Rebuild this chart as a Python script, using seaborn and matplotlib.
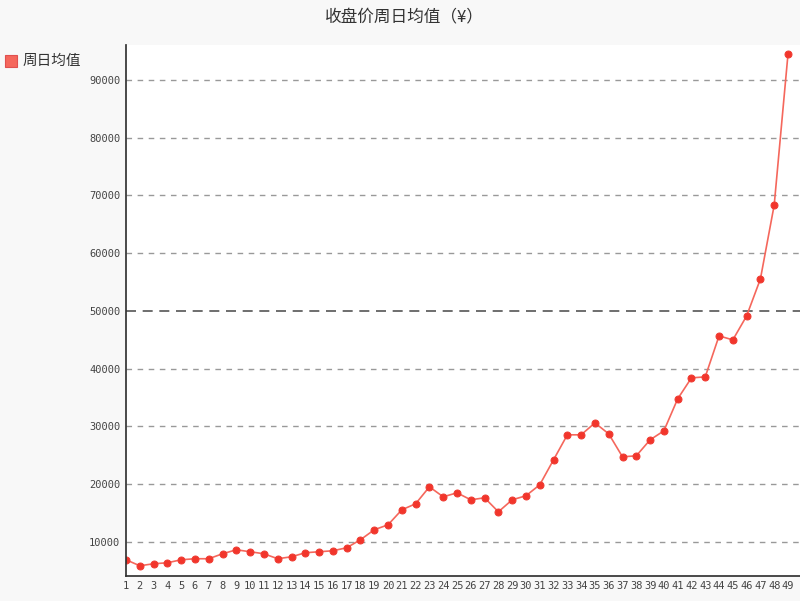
import numpy as np
import pandas as pd
import seaborn as sns
import matplotlib.pyplot as plt

sns.set_theme(style="white")
plt.rcParams['font.family'] = ['Noto Sans CJK SC', 'DejaVu Sans']

weeks = list(range(1, 50))
values = [6880, 5840, 6190, 6360, 6880, 7060, 7060, 7920, 8610, 8270,
          7920, 7060, 7400, 8100, 8270, 8440, 8960, 10350, 12080, 12940,
          15540, 16580, 19520, 17790, 18480, 17270, 17620, 15190, 17270, 17970,
          19870, 24200, 28530, 28530, 30600, 28700, 24720, 24890, 27660, 29220,
          34760, 38400, 38570, 45670, 44980, 49130, 55540, 68350, 94500]
df = pd.DataFrame({"week": weeks, "value": values})

fig = plt.figure(figsize=(8, 6.01), dpi=100, facecolor="#f8f8f8")
ax = fig.add_axes([0.1575, 0.042, 0.8425, 0.883])
ax.set_facecolor("white")

for v in range(10000, 100000, 10000):
    if v == 50000:
        ax.axhline(v, color="#555555", lw=1.2, ls=(0, (6, 4)), zorder=0)
    else:
        ax.axhline(v, color="#999999", lw=1, ls=(0, (4, 4)), zorder=0)

sns.lineplot(data=df, x="week", y="value", ax=ax, color="#f5675c", lw=1.2,
             marker="o", markersize=5, markeredgecolor="#ef3b32",
             markerfacecolor="#f2352b")

ax.set_xlim(1, 49.87)
ax.set_ylim(4110, 96060)
ax.set_xticks(weeks)
ax.set_xticklabels([str(w) for w in weeks], fontsize=7.5, color="#444444",
                   family="DejaVu Sans Mono")
ax.set_yticks(range(10000, 100000, 10000))
ax.set_yticklabels([str(v) for v in range(10000, 100000, 10000)], fontsize=7.5,
                   color="#444444", family="DejaVu Sans Mono")
ax.tick_params(length=0, pad=4)
ax.set_xlabel("")
ax.set_ylabel("")
for s in ["top", "right"]:
    ax.spines[s].set_visible(False)
ax.spines["left"].set_color("#333333")
ax.spines["bottom"].set_color("#333333")

fig.text(0.506, 0.97, "收盘价周日均值（¥）", ha="center", va="center", fontsize=12, color="#333333")
fig.patches.append(plt.Rectangle((0.006, 0.888), 0.015, 0.02, transform=fig.transFigure,
                                 facecolor="#f5675c", edgecolor="#e05050", lw=0.8))
fig.text(0.028, 0.898, "周日均值", ha="left", va="center", fontsize=10.5, color="#333333")

fig.savefig("out.png", dpi=100, facecolor=fig.get_facecolor())
